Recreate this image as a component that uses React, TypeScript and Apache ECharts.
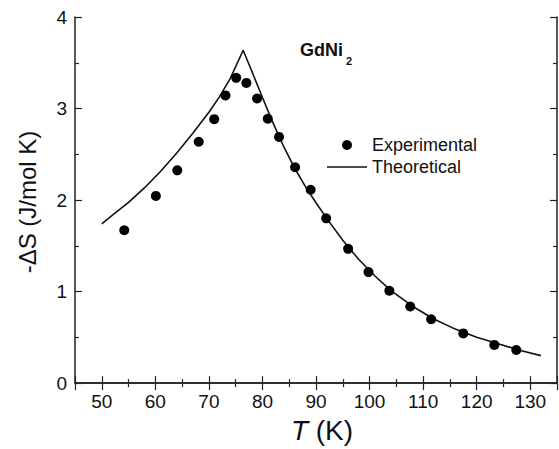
import React, { useEffect, useRef } from "react";
import * as echarts from "echarts";

const expT = [54.2, 60.1, 64.1, 68.1, 71.0, 73.1, 75.1, 77.0, 79.0, 81.0, 83.1, 86.1, 89.0, 91.9, 96.0, 99.8, 103.7, 107.6, 111.5, 117.5, 123.3, 127.4];
const expS = [1.67, 2.045, 2.325, 2.637, 2.884, 3.143, 3.335, 3.28, 3.11, 2.888, 2.69, 2.358, 2.113, 1.8, 1.467, 1.213, 1.009, 0.837, 0.698, 0.543, 0.417, 0.362];

const theoT = [50, 52, 55, 58, 61, 64, 67, 70, 72, 74, 76.4, 78, 80, 82, 84, 86, 88, 90, 92, 95, 98, 101, 104, 108, 112, 116, 120, 124, 128, 132];
const theoS = [1.74, 1.835, 1.975, 2.135, 2.315, 2.515, 2.73, 2.96, 3.13, 3.33, 3.637, 3.41, 3.12, 2.84, 2.58, 2.35, 2.15, 1.97, 1.8, 1.56, 1.35, 1.17, 1.01, 0.84, 0.7, 0.59, 0.5, 0.43, 0.36, 0.3];

const xMin = 45;
const xMax = 135;
const yMin = 0;
const yMax = 4;

const yTitle = "-ΔS (J/mol K)";
const compound = "GdNi";
const compoundSub = "2";

const FONT = "'Liberation Sans', Arial, sans-serif";
const AX = "#222";

export default function App() {
  const ref = useRef<HTMLDivElement>(null);
  useEffect(() => {
    if (!ref.current) return;
    const chart = echarts.init(ref.current, undefined, { renderer: "svg" });
    const axisCommon = {
      axisLine: { show: true, lineStyle: { color: AX, width: 1.5 } },
      axisTick: { show: true, inside: true, length: 7, lineStyle: { color: AX, width: 1.2 } },
      minorTick: { show: true, splitNumber: 2, length: 4, lineStyle: { color: AX, width: 1.2 } },
      splitLine: { show: false },
      minorSplitLine: { show: false },
    };
    const xCommon = {
      type: "value",
      min: xMin,
      max: xMax,
      splitNumber: 9,
      minInterval: 10,
      maxInterval: 10,
      ...axisCommon,
    };
    const yCommon = {
      type: "value",
      min: yMin,
      max: yMax,
      interval: 1,
      ...axisCommon,
    };
    chart.setOption({
      animation: false,
      backgroundColor: "#fff",
      grid: { left: 75, right: 2, top: 17, bottom: 65 },
      xAxis: [
        {
          ...xCommon,
          position: "bottom",
          name: "{i|T} (K)",
          nameLocation: "middle",
          nameGap: 31,
          nameTextStyle: {
            fontFamily: FONT,
            fontSize: 28,
            color: "#111",
            padding: [0, 0, 0, 12],
            rich: { i: { fontStyle: "italic", fontFamily: FONT, fontSize: 28, color: "#111" } },
          },
          axisLabel: {
            show: true,
            margin: 9,
            fontFamily: FONT,
            fontSize: 19,
            color: "#111",
            showMinLabel: false,
            showMaxLabel: false,
          },
        },
        {
          ...xCommon,
          position: "top",
          axisLabel: { show: false },
        },
      ],
      yAxis: [
        {
          ...yCommon,
          position: "left",
          axisLabel: { show: true, margin: 8, fontFamily: FONT, fontSize: 19, color: "#111" },
        },
        {
          ...yCommon,
          position: "right",
          axisLabel: { show: false },
        },
      ],
      legend: {
        orient: "vertical",
        left: 327,
        top: 136,
        padding: 0,
        itemWidth: 40,
        itemHeight: 10,
        itemGap: 4,
        textStyle: { fontFamily: FONT, fontSize: 18, color: "#111", lineHeight: 17 },
        data: [
          { name: "Experimental", icon: "circle", itemStyle: { opacity: 1 } },
          { name: "Theoretical", icon: "path://M0,0L40,0L40,1.6L0,1.6Z" },
        ],
      },
      graphic: [
        {
          type: "text",
          x: 27,
          y: 202,
          rotation: Math.PI / 2,
          style: {
            text: yTitle,
            fontFamily: FONT,
            fontSize: 24,
            fill: "#111",
            align: "center",
            verticalAlign: "middle",
          },
        },
        {
          type: "text",
          x: 300,
          y: 41,
          style: { text: compound, fontFamily: FONT, fontSize: 18, fontWeight: "bold", fill: "#111", verticalAlign: "top" },
        },
        {
          type: "text",
          x: 346,
          y: 55,
          style: { text: compoundSub, fontFamily: FONT, fontSize: 11, fontWeight: "bold", fill: "#111", verticalAlign: "top" },
        },
      ],
      series: [
        {
          name: "Theoretical",
          type: "line",
          data: theoT.map((t, i) => [t, theoS[i]]),
          symbol: "none",
          lineStyle: { color: "#111", width: 1.6 },
          itemStyle: { color: "#111" },
          z: 2,
        },
        {
          name: "Experimental",
          type: "scatter",
          data: expT.map((t, i) => [t, expS[i]]),
          symbol: "circle",
          symbolSize: 10,
          itemStyle: { color: "#000", opacity: 1 },
          z: 3,
        },
      ],
    });
    return () => chart.dispose();
  }, []);
  return <div ref={ref} style={{ position: "fixed", left: 0, top: 0, width: 559, height: 449 }} />;
}
